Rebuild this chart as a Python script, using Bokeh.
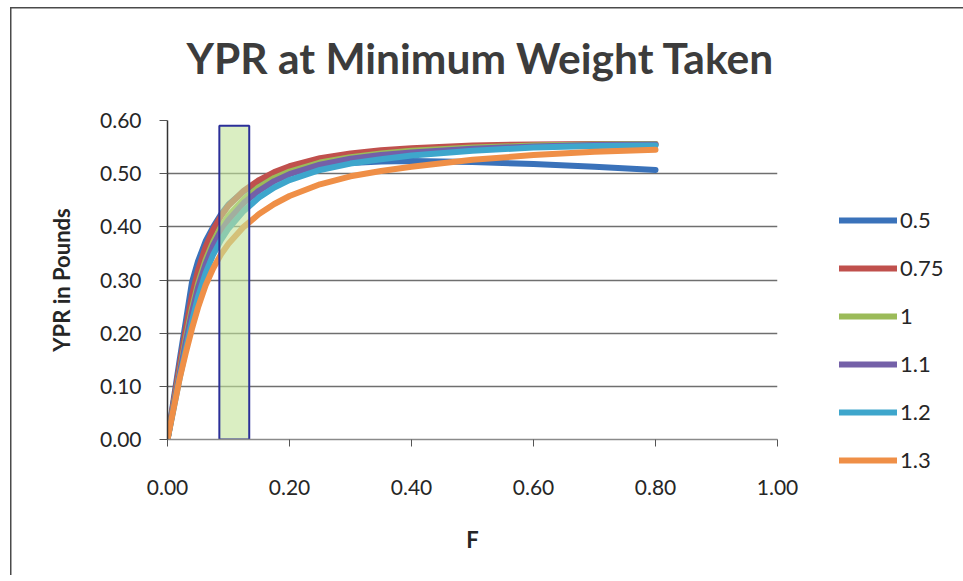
from bokeh.plotting import figure
from bokeh.models import (Legend, LegendItem, FixedTicker,
                          NumeralTickFormatter, Range1d)
from bokeh.embed import file_html
from bokeh.resources import INLINE

# Fishing mortality grid
f_values = [0, 0.01, 0.02, 0.03, 0.04, 0.05, 0.0625, 0.075, 0.0875, 0.1,
            0.125, 0.15, 0.175, 0.2, 0.25, 0.3, 0.35, 0.4, 0.5, 0.6, 0.7, 0.8]

# Yield per recruit (pounds) for each minimum weight taken
ypr_05 = [0, 0.075, 0.15, 0.222, 0.295, 0.335, 0.373, 0.40, 0.423, 0.442,
          0.467, 0.484, 0.496, 0.505, 0.515, 0.52, 0.523, 0.524, 0.522,
          0.518, 0.513, 0.507]
ypr_075 = [0, 0.07, 0.14, 0.207, 0.27, 0.318, 0.362, 0.395, 0.42, 0.44,
           0.468, 0.488, 0.503, 0.514, 0.529, 0.538, 0.544, 0.548, 0.553,
           0.555, 0.556, 0.556]
ypr_1 = [0, 0.064, 0.128, 0.19, 0.246, 0.293, 0.338, 0.372, 0.40, 0.421,
         0.452, 0.475, 0.492, 0.504, 0.521, 0.531, 0.538, 0.543, 0.549,
         0.553, 0.555, 0.556]
ypr_11 = [0, 0.062, 0.124, 0.183, 0.238, 0.285, 0.33, 0.365, 0.392, 0.413,
          0.445, 0.468, 0.486, 0.499, 0.517, 0.528, 0.535, 0.54, 0.547,
          0.551, 0.554, 0.555]
ypr_12 = [0, 0.058, 0.116, 0.17, 0.222, 0.268, 0.313, 0.348, 0.375, 0.397,
          0.43, 0.455, 0.474, 0.488, 0.507, 0.519, 0.527, 0.534, 0.543,
          0.549, 0.552, 0.553]
ypr_13 = [0, 0.058, 0.115, 0.163, 0.208, 0.248, 0.29, 0.322, 0.348, 0.368,
          0.40, 0.424, 0.443, 0.458, 0.48, 0.495, 0.505, 0.513, 0.526,
          0.535, 0.541, 0.545]

series_names = ["0.5", "0.75", "1", "1.1", "1.2", "1.3"]
series_values = [ypr_05, ypr_075, ypr_1, ypr_11, ypr_12, ypr_13]
series_colors = ["#3a72ba", "#c0504d", "#9bbb59", "#7460a8", "#3ea6cc", "#ef8f47"]

# Highlighted F window
window_left = [0.085]
window_right = [0.134]
window_bottom = [0.0]
window_top = [0.59]

x_ticks = [0.0, 0.2, 0.4, 0.6, 0.8, 1.0]
y_ticks = [0.0, 0.1, 0.2, 0.3, 0.4, 0.5, 0.6]

FONT = "Lato"
TEXT = "#262626"
FRAME_LINE = "linear-gradient(#4a4a4a, #4a4a4a)"

p = figure(frame_width=610, frame_height=319,
           output_backend="svg", toolbar_location=None,
           x_range=Range1d(0, 1), y_range=Range1d(0, 0.6),
           min_border_left=157, min_border_right=186,
           min_border_top=126, min_border_bottom=136,
           title="YPR at Minimum Weight Taken")
p.background_fill_color = "white"
p.border_fill_color = None
p.outline_line_color = None
# chart border (top and left edges) painted behind the transparent canvas
p.styles = {"margin-left": "10px", "margin-top": "-6px",
            "background-color": "white",
            "background-image": f"{FRAME_LINE}, {FRAME_LINE}",
            "background-size": "100% 1.5px, 1.5px 100%",
            "background-position": "0 13px, 0 13px",
            "background-repeat": "no-repeat"}

p.title.text_font = FONT
p.title.text_font_size = "42.5px"
p.title.text_font_style = "bold"
p.title.text_color = "#3c3c3c"
p.title.align = "left"
p.title.offset = 19
p.title.vertical_align = "top"
p.title.standoff = 72

renderers = []
for name, vals, col in zip(series_names, series_values, series_colors):
    r = p.line(f_values, vals, line_color=col, line_width=6,
               line_cap="round", line_join="round")
    renderers.append((name, r))

p.quad(left=window_left, right=window_right, bottom=window_bottom,
       top=window_top, fill_color="#c2e39a", fill_alpha=0.6,
       line_color="#2b2f99", line_width=2)

# axes
p.xaxis.ticker = FixedTicker(ticks=x_ticks)
p.yaxis.ticker = FixedTicker(ticks=y_ticks)
p.xaxis.formatter = NumeralTickFormatter(format="0.00")
p.yaxis.formatter = NumeralTickFormatter(format="0.00")
p.xaxis.minor_tick_line_color = None
p.yaxis.minor_tick_line_color = None
p.xaxis.major_tick_in = 0
p.xaxis.major_tick_out = 7
p.yaxis.major_tick_in = 0
p.yaxis.major_tick_out = 8
p.xaxis.axis_line_color = "#8a8a8a"
p.xaxis.major_tick_line_color = "#555555"
p.yaxis.axis_line_color = "#333333"
p.yaxis.major_tick_line_color = "#555555"
p.xaxis.axis_line_width = 1.5
p.yaxis.axis_line_width = 1.5
for ax in (p.xaxis, p.yaxis):
    ax.major_label_text_font = FONT
    ax.major_label_text_font_size = "21px"
    ax.major_label_text_color = TEXT
    ax.axis_label_text_font = FONT
    ax.axis_label_text_font_size = "22px"
    ax.axis_label_text_font_style = "bold"
    ax.axis_label_text_color = TEXT
p.xaxis.major_label_standoff = 33
p.yaxis.major_label_standoff = 18
p.xaxis.axis_label = "F"
p.yaxis.axis_label = "YPR in Pounds"
p.xaxis.axis_label_standoff = 28
p.yaxis.axis_label_standoff = 22

p.xgrid.grid_line_color = None
p.ygrid.grid_line_color = "#6f6f6f"
p.ygrid.grid_line_width = 1.5

legend = Legend(items=[LegendItem(label=n, renderers=[r]) for n, r in renderers],
                location=(62, -34), orientation="vertical",
                glyph_width=58, glyph_height=20, label_height=20,
                spacing=21, padding=10, margin=0, label_standoff=3,
                border_line_color=None, background_fill_alpha=0,
                label_text_font=FONT, label_text_font_size="22px",
                label_text_color=TEXT)
p.add_layout(legend, "right")

open("out.html", "w").write(file_html(p, INLINE))
